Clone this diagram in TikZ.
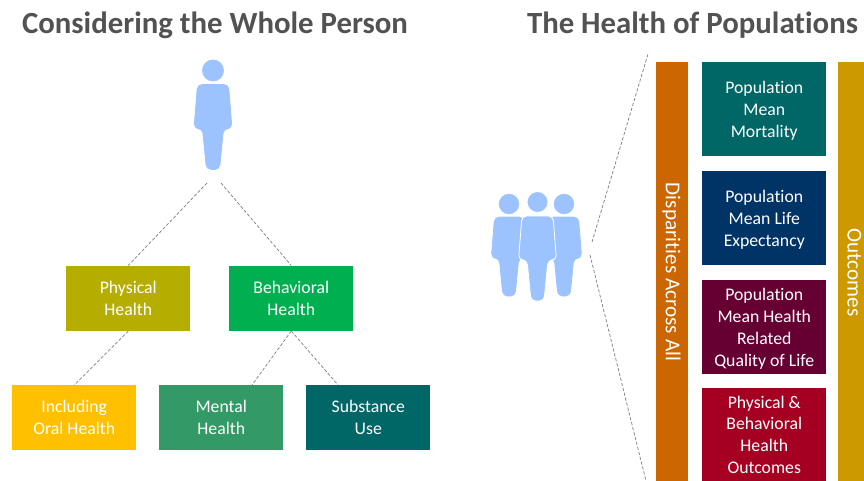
\documentclass[tikz,border=0pt]{standalone}
\usepackage{fontspec}
\setmainfont{Carlito}[Ligatures=NoCommon]
\definecolor{figblue}{HTML}{9DC3FF}
\definecolor{cPhys}{HTML}{B5AE00}
\definecolor{cBeh}{HTML}{00B050}
\definecolor{cIncl}{HTML}{FFC000}
\definecolor{cMent}{HTML}{339966}
\definecolor{cTeal}{HTML}{006666}
\definecolor{cNavy}{HTML}{003366}
\definecolor{cPlum}{HTML}{660033}
\definecolor{cRed}{HTML}{A50021}
\definecolor{cOrange}{HTML}{CC6600}
\definecolor{cGold}{HTML}{CC9900}
\newcommand{\lowerline}{\rule{0pt}{12pt}}
\tikzset{
  box/.style={minimum width=93pt,inner sep=0pt,align=center,text=white,font=\fontsize{13.3}{16.4}\selectfont,anchor=north west},
  rbox/.style={box,minimum height=70.5pt},
  lbox/.style={box,minimum height=48.75pt},
  vbar/.style={draw=none,anchor=north west},
  vtext/.style={rotate=-90,text=white,font=\fontsize{15.9}{18}\selectfont,inner sep=0pt},
  link/.style={draw=black!50,dash pattern=on 2.4pt off 1.4pt,line width=0.55pt},
  title/.style={font=\fontsize{23.1}{27}\selectfont\bfseries,text=black!68,anchor=base},
  pics/figure/.style={code={
    \fill[figblue,draw=#1,line width=0.6pt] (0,0) circle (10.5);
    \fill[figblue,draw=#1,line width=0.6pt,rounded corners=3.5pt]
      (-15.5,14) -- (15.5,14) -- (19,58) -- (10.5,58) -- (6.5,99) -- (-6.5,99) -- (-10.5,58) -- (-19,58) -- cycle;
  }}
}
\begin{document}
\begin{tikzpicture}[x=0.75pt,y=-0.75pt]
\useasboundingbox (0,0) rectangle (864,481);
\clip (0,0) rectangle (864,481);
\node[title] (t1) at (215,33.5) {Considering the Whole Person};
\node[title] (t2) at (692.5,33.5) {The Health of Populations};
% figures
\pic at (213,70.5) {figure=figblue};
\pic[scale=0.93] at (509,204) {figure=figblue};
\pic[scale=0.93] at (564,204) {figure=figblue};
\pic at (537.5,202) {figure=white};
% left boxes
\node[lbox,fill=cPhys] (phys) at (66,265.5) {Physical\\Health};
\node[lbox,fill=cBeh] (behav) at (229,265.5) {Behavioral\\Health};
\node[lbox,fill=cIncl] (incl) at (12,385) {Including\\Oral Health};
\node[lbox,fill=cMent] (ment) at (159,385) {Mental\\Health};
\node[lbox,fill=cTeal] (subs) at (306,385) {Substance\\Use};
% right column
\node[rbox,fill=cTeal] (mort) at (702,62) {\lowerline Population\\Mean\\Mortality};
\node[rbox,fill=cNavy] (life) at (702,171) {\lowerline Population\\Mean Life\\Expectancy};
\node[rbox,fill=cPlum] (qual) at (702,279.5) {\lowerline Population\\Mean Health\\Related\\Quality of Life};
\node[rbox,fill=cRed] (outc) at (702,387.5) {Physical \&\\Behavioral\\Health\\Outcomes};
% bars
\node[vbar,fill=cOrange,minimum width=24pt,minimum height=330pt] (disp) at (656,62) {};
\node[vbar,fill=cGold,minimum width=24pt,minimum height=330pt] (outb) at (838,62) {};
\node[vtext] (dispt) at (671.5,272) {Disparities Across All};
\node[vtext] (outt) at (854.5,272.5) {Outcomes};
% connector ends
\coordinate (pa) at (207,183);
\coordinate (pb) at (221,183);
\coordinate (ma) at (252,385);
\coordinate (sa) at (338,385);
\coordinate (ga) at (592,242);
\coordinate (gb) at (648,54);
\coordinate (gc) at (590,255);
\coordinate (gd) at (646,481);
\draw[link] (pa) -- (phys.north);
\draw[link] (pb) -- (behav.north);
\draw[link] (phys.south) -- (incl.north);
\draw[link] (behav.south) -- (ma);
\draw[link] (behav.south) -- (sa);
\draw[link] (ga) -- (gb);
\draw[link] (gc) -- (gd);
\end{tikzpicture}
\end{document}
